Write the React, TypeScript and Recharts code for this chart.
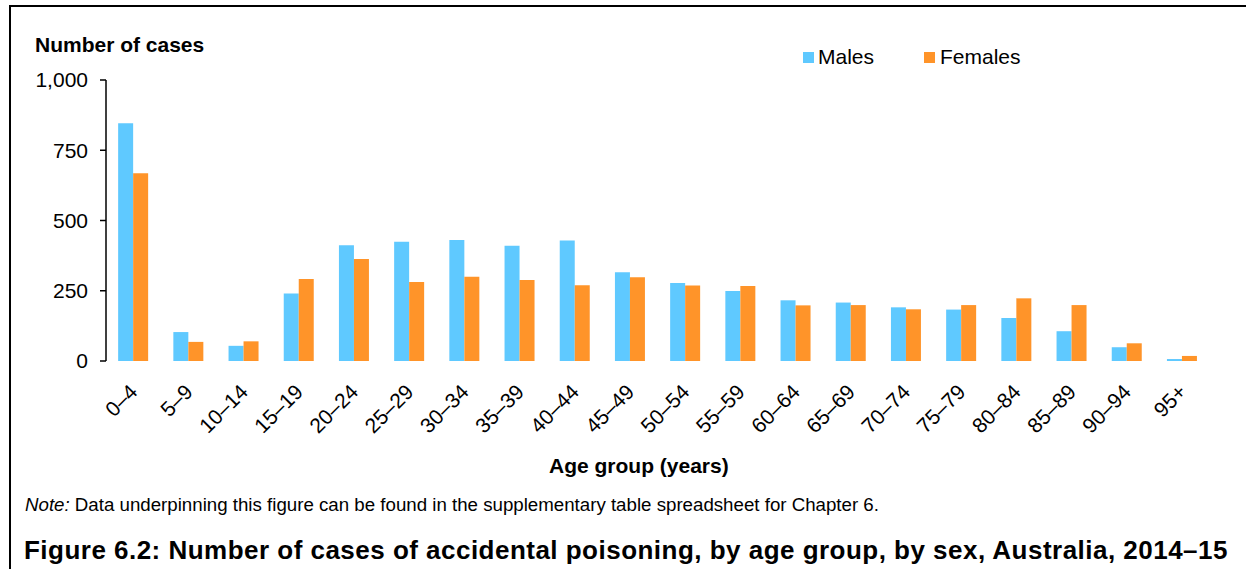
import React from "react"
import { Bar, BarChart, XAxis, YAxis } from "recharts"

const ageGroups = [
  "0–4", "5–9", "10–14", "15–19", "20–24", "25–29", "30–34", "35–39", "40–44", "45–49",
  "50–54", "55–59", "60–64", "65–69", "70–74", "75–79", "80–84", "85–89", "90–94", "95+",
]
const males = [846, 103, 54, 240, 412, 424, 431, 410, 429, 316, 278, 249, 216, 208, 191, 183, 153, 106, 49, 7]
const females = [668, 68, 70, 292, 363, 281, 300, 288, 270, 298, 269, 267, 198, 199, 184, 199, 223, 199, 63, 18]
const yTicks = [0, 250, 500, 750, 1000]
// category boundaries, used only for the tick marks on the x axis
const edgeTicks = [0, 1, 2, 3, 4, 5, 6, 7, 8, 9, 10, 11, 12, 13, 14, 15, 16, 17, 18, 19, 20]

const data = ageGroups.map((age, i) => ({ age, males: males[i], females: females[i] }))

const FONT = '"Liberation Sans", Arial, sans-serif'
const BLUE = "#5FC9FF"
const ORANGE = "#FF9429"

const AgeTick = (props: any) => {
  const { x, y, payload } = props
  return (
    <text
      x={x}
      y={y}
      transform={`rotate(-45, ${x}, ${y})`}
      textAnchor="end"
      dy="0.35em"
      fontSize={21}
      fontFamily={FONT}
      fill="#000"
    >
      {payload.value}
    </text>
  )
}

const abs = (extra: React.CSSProperties): React.CSSProperties => ({
  position: "absolute",
  fontFamily: FONT,
  color: "#000",
  whiteSpace: "nowrap",
  lineHeight: 1,
  ...extra,
})

export default function App() {
  return (
    <div style={{ position: "absolute", left: 0, top: 0, width: 1246, height: 569, background: "#fff", overflow: "hidden" }}>
      <div style={{ position: "absolute", left: 9, top: 5, width: 1300, height: 700, borderTop: "2px solid #000", borderLeft: "2px solid #000" }} />

      <div style={{ position: "absolute", left: 0, top: 0 }}>
        <BarChart
          width={1246}
          height={569}
          data={data}
          margin={{ top: 80, right: 36, bottom: 108, left: 46 }}
          barCategoryGap="22%"
          barGap={0}
        >
          <XAxis
            xAxisId="edge"
            type="number"
            domain={[0, 20]}
            ticks={edgeTicks}
            tick={false}
            height={0}
            tickSize={6}
            axisLine={{ stroke: "#000", strokeWidth: 1.5 }}
            tickLine={{ stroke: "#000", strokeWidth: 1.5 }}
            allowDataOverflow
          />
          <XAxis
            xAxisId="cat"
            dataKey="age"
            height={100}
            axisLine={false}
            tickLine={false}
            tickSize={0}
            tickMargin={27}
            interval={0}
            tick={<AgeTick />}
          />
          <YAxis
            width={60}
            domain={[0, 1000]}
            ticks={yTicks}
            tickFormatter={(v: number) => v.toLocaleString("en-US")}
            tickSize={6}
            tickMargin={12}
            axisLine={{ stroke: "#000", strokeWidth: 1.5 }}
            tickLine={{ stroke: "#000", strokeWidth: 1.5 }}
            tick={{ fontSize: 21, fontFamily: FONT, fill: "#000" }}
          />
          <Bar xAxisId="cat" dataKey="males" name="Males" fill={BLUE} isAnimationActive={false} />
          <Bar xAxisId="cat" dataKey="females" name="Females" fill={ORANGE} isAnimationActive={false} />
        </BarChart>
      </div>

      <div style={abs({ left: 35, top: 34, fontSize: 21, fontWeight: "bold" })}>Number of cases</div>

      <div style={{ position: "absolute", left: 803, top: 52, width: 11, height: 11, background: BLUE }} />
      <div style={abs({ left: 818, top: 46, fontSize: 21 })}>Males</div>
      <div style={{ position: "absolute", left: 924, top: 52, width: 11, height: 11, background: ORANGE }} />
      <div style={abs({ left: 940, top: 46, fontSize: 21 })}>Females</div>

      <div style={abs({ left: 549, top: 455, fontSize: 21, fontWeight: "bold" })}>Age group (years)</div>

      <div style={abs({ left: 25, top: 496, fontSize: 18.7 })}>
        <i>Note:</i> Data underpinning this figure can be found in the supplementary table spreadsheet for Chapter 6.
      </div>

      <div style={abs({ left: 24, top: 537, fontSize: 26, fontWeight: "bold", letterSpacing: 0.48 })}>
        Figure 6.2: Number of cases of accidental poisoning, by age group, by sex, Australia, 2014–15
      </div>
    </div>
  )
}
